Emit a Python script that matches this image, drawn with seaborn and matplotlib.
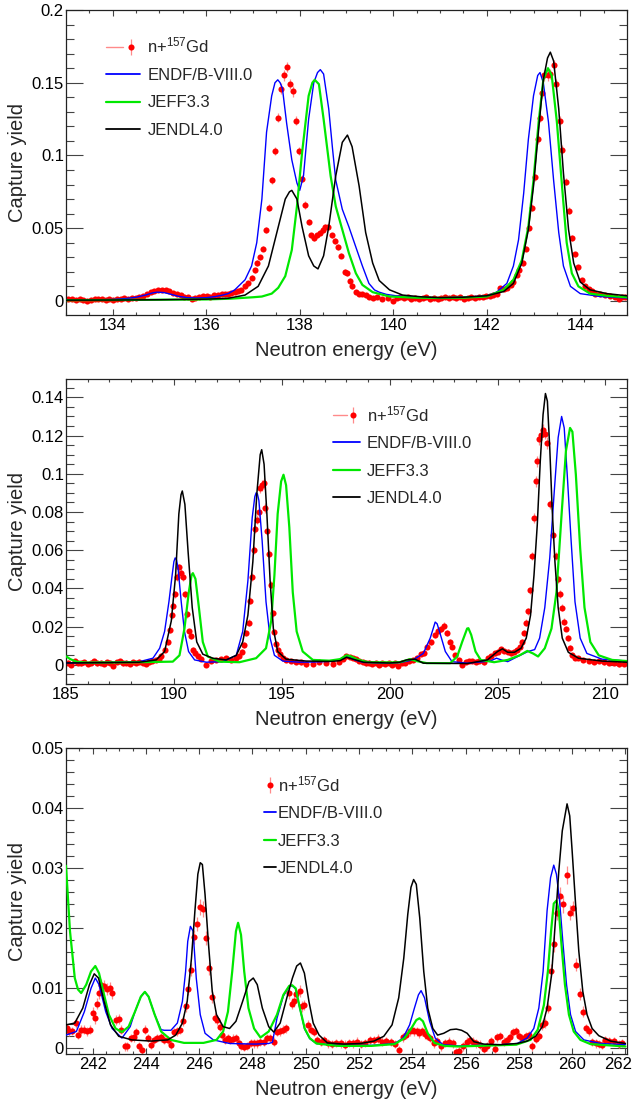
import matplotlib
matplotlib.use("Agg")
import matplotlib.pyplot as plt
import seaborn as sns
import pandas as pd
from matplotlib.ticker import MultipleLocator, FuncFormatter
from matplotlib.lines import Line2D
from matplotlib.legend_handler import HandlerTuple
from matplotlib.transforms import ScaledTranslation

# ---------------- data ----------------
labels = ["n+$^{\\mathregular{157}}$Gd", "ENDF/B-VIII.0", "JEFF3.3", "JENDL4.0"]
x_label = "Neutron energy (eV)"
y_label = "Capture yield"

# panel 1 : measured points (energy eV, yield, error)
p1_data = [
    (133.05,0.0010,0.0012),(133.13,0.0012,0.0012),(133.21,0.0008,0.0012),(133.29,0.0011,0.0012),(133.37,0.0006,0.0012),
    (133.45,0.0002,0.0012),(133.53,0.0009,0.0012),(133.61,0.0013,0.0012),(133.69,0.0010,0.0012),(133.77,0.0012,0.0012),
    (133.85,0.0007,0.0012),(133.93,0.0011,0.0012),(134.01,0.0009,0.0012),(134.09,0.0014,0.0012),(134.17,0.0012,0.0012),
    (134.25,0.0020,0.0012),(134.33,0.0016,0.0012),(134.41,0.0022,0.0012),(134.49,0.0018,0.0012),(134.57,0.0026,0.0012),
    (134.65,0.0035,0.0012),(134.73,0.0048,0.0012),(134.81,0.0060,0.0012),(134.89,0.0070,0.0012),(134.97,0.0078,0.0012),
    (135.05,0.0076,0.0012),(135.13,0.0077,0.0012),(135.21,0.0065,0.0012),(135.29,0.0055,0.0012),(135.37,0.0046,0.0012),
    (135.45,0.0040,0.0012),(135.53,0.0028,0.0012),(135.61,0.0024,0.0012),(135.69,0.0015,0.0012),(135.77,0.0022,0.0012),
    (135.85,0.0030,0.0012),(135.93,0.0032,0.0012),(136.01,0.0033,0.0012),(136.09,0.0030,0.0012),(136.17,0.0038,0.0012),
    (136.25,0.0040,0.0012),(136.33,0.0045,0.0012),(136.40,0.0048,0.0012),(136.47,0.0050,0.0012),(136.54,0.0052,0.0012),
    (136.61,0.0060,0.0012),(136.68,0.0068,0.0012),(136.75,0.0076,0.0012),(136.83,0.0100,0.0015),(136.90,0.0120,0.0015),
    (136.97,0.0160,0.0018),(137.04,0.0210,0.0018),(137.09,0.0260,0.0018),(137.15,0.0300,0.0018),(137.22,0.0360,0.0018),
    (137.27,0.0490,0.0020),(137.34,0.0640,0.0025),(137.41,0.0830,0.0025),(137.47,0.1030,0.0030),(137.54,0.1260,0.0030),
    (137.60,0.1460,0.0035),(137.66,0.1550,0.0035),(137.72,0.1610,0.0035),(137.80,0.1490,0.0035),(137.85,0.1440,0.0035),
    (137.92,0.1240,0.0030),(137.98,0.1030,0.0030),(138.05,0.0840,0.0025),(138.12,0.0660,0.0025),(138.19,0.0540,0.0020),
    (138.25,0.0450,0.0020),(138.31,0.0430,0.0020),(138.37,0.0450,0.0020),(138.43,0.0470,0.0020),(138.49,0.0490,0.0020),
    (138.55,0.0510,0.0020),(138.61,0.0510,0.0020),(138.68,0.0450,0.0020),(138.75,0.0410,0.0020),(138.82,0.0370,0.0018),
    (138.89,0.0310,0.0018),(138.96,0.0200,0.0018),(139.02,0.0190,0.0018),(139.07,0.0140,0.0015),(139.12,0.0100,0.0015),
    (139.20,0.0060,0.0012),(139.27,0.0050,0.0012),(139.34,0.0050,0.0012),(139.41,0.0040,0.0012),(139.48,0.0030,0.0012),
    (139.56,0.0020,0.0012),(139.66,0.0030,0.0012),(139.77,0.0010,0.0012),(139.88,0.0020,0.0012),(139.99,0.0000,0.0012),
    (140.07,0.0022,0.0012),(140.15,0.0030,0.0012),(140.23,0.0018,0.0012),(140.31,0.0025,0.0012),(140.39,0.0015,0.0012),
    (140.47,0.0021,0.0012),(140.55,0.0016,0.0012),(140.63,0.0020,0.0012),(140.71,0.0026,0.0012),(140.79,0.0014,0.0012),
    (140.87,0.0020,0.0012),(140.95,0.0011,0.0012),(141.03,0.0021,0.0012),(141.11,0.0024,0.0012),(141.19,0.0019,0.0012),
    (141.27,0.0025,0.0012),(141.35,0.0021,0.0012),(141.43,0.0026,0.0012),(141.51,0.0016,0.0012),(141.59,0.0023,0.0012),
    (141.67,0.0026,0.0012),(141.75,0.0022,0.0012),(141.83,0.0029,0.0012),(141.91,0.0025,0.0012),(141.99,0.0031,0.0012),
    (142.07,0.0033,0.0012),(142.14,0.0040,0.0012),(142.21,0.0050,0.0012),(142.29,0.0090,0.0015),(142.36,0.0080,0.0015),
    (142.44,0.0090,0.0015),(142.51,0.0110,0.0015),(142.57,0.0130,0.0015),(142.64,0.0180,0.0018),(142.70,0.0210,0.0018),
    (142.77,0.0260,0.0018),(142.84,0.0360,0.0018),(142.91,0.0500,0.0020),(142.97,0.0640,0.0025),(143.04,0.0850,0.0025),
    (143.09,0.1110,0.0030),(143.13,0.1260,0.0030),(143.18,0.1430,0.0035),(143.23,0.1550,0.0035),(143.30,0.1550,0.0035),
    (143.36,0.1560,0.0035),(143.43,0.1620,0.0035),(143.49,0.1490,0.0035),(143.56,0.1240,0.0030),(143.62,0.1040,0.0030),
    (143.69,0.0820,0.0025),(143.75,0.0620,0.0025),(143.82,0.0430,0.0020),(143.89,0.0320,0.0018),(143.96,0.0230,0.0018),
    (144.04,0.0145,0.0015),(144.11,0.0100,0.0015),(144.18,0.0080,0.0012),(144.25,0.0070,0.0012),(144.32,0.0050,0.0012),
    (144.43,0.0050,0.0012),(144.54,0.0040,0.0012),(144.64,0.0035,0.0012),(144.75,0.0030,0.0012),(144.82,0.0010,0.0012),
    (144.89,0.0030,0.0012),(144.96,0.0025,0.0012),
]

p1_endf = [
    (133.0,0.0005),(133.5,0.0006),(134.0,0.0010),(134.3,0.0017),(134.5,0.0025),(134.7,0.0040),(134.85,0.0055),
    (134.95,0.0060),(135.1,0.0057),(135.25,0.0045),(135.4,0.0032),(135.6,0.0022),(135.8,0.0020),(136.0,0.0022),
    (136.2,0.0030),(136.35,0.0040),(136.47,0.0050),(136.61,0.0076),(136.83,0.0145),(136.97,0.0240),(137.08,0.0400),
    (137.19,0.0700),(137.29,0.1160),(137.40,0.1410),(137.47,0.1500),(137.53,0.1520),(137.58,0.1500),(137.63,0.1460),
    (137.72,0.1220),(137.83,0.0970),(137.94,0.0810),(138.00,0.0760),(138.08,0.0860),(138.19,0.1250),(138.30,0.1500),
    (138.38,0.1570),(138.44,0.1590),(138.51,0.1560),(138.62,0.1320),(138.70,0.1050),(138.77,0.0830),(138.91,0.0630),
    (139.05,0.0510),(139.20,0.0370),(139.34,0.0240),(139.48,0.0120),(139.60,0.0075),(139.70,0.0060),(139.85,0.0045),
    (140.06,0.0035),(140.5,0.0025),(141.0,0.0022),(141.5,0.0025),(142.0,0.0035),(142.21,0.0060),(142.43,0.0120),
    (142.57,0.0240),(142.68,0.0420),(142.79,0.0740),(142.89,0.1110),(143.00,0.1410),(143.09,0.1550),(143.14,0.1570),
    (143.21,0.1500),(143.32,0.1230),(143.43,0.0830),(143.54,0.0470),(143.64,0.0240),(143.79,0.0100),(144.00,0.0050),
    (144.43,0.0030),(145.0,0.0020),
]
p1_jeff = [
    (133.0,0.0005),(134.0,0.0006),(135.0,0.0008),(136.0,0.0010),(136.5,0.0015),(137.0,0.0025),(137.19,0.0030),
    (137.40,0.0050),(137.54,0.0090),(137.69,0.0170),(137.83,0.0350),(137.94,0.0650),(138.05,0.1020),(138.19,0.1410),
    (138.27,0.1500),(138.32,0.1520),(138.41,0.1490),(138.51,0.1250),(138.66,0.0860),(138.77,0.0650),(138.91,0.0490),
    (139.05,0.0330),(139.20,0.0190),(139.34,0.0110),(139.56,0.0060),(139.92,0.0030),(140.5,0.0022),(141.0,0.0020),
    (141.5,0.0022),(142.0,0.0030),(142.36,0.0076),(142.57,0.0145),(142.75,0.0280),(142.89,0.0510),(143.00,0.0830),
    (143.11,0.1230),(143.21,0.1520),(143.31,0.1600),(143.39,0.1550),(143.50,0.1230),(143.61,0.0790),(143.71,0.0400),
    (143.82,0.0190),(143.96,0.0100),(144.21,0.0050),(144.57,0.0035),(145.0,0.0025),
]
p1_jendl = [
    (133.0,0.0005),(134.0,0.0006),(135.0,0.0008),(136.0,0.0012),(136.47,0.0018),(136.83,0.0040),(137.11,0.0100),
    (137.33,0.0240),(137.51,0.0470),(137.69,0.0700),(137.78,0.0750),(137.83,0.0760),(137.94,0.0700),(138.05,0.0510),
    (138.19,0.0310),(138.30,0.0240),(138.39,0.0220),(138.51,0.0310),(138.62,0.0510),(138.77,0.0860),(138.91,0.1090),
    (139.02,0.1140),(139.12,0.1060),(139.27,0.0790),(139.41,0.0470),(139.56,0.0260),(139.70,0.0140),(139.92,0.0076),
    (140.20,0.0040),(140.6,0.0028),(141.0,0.0022),(141.5,0.0025),(142.0,0.0035),(142.36,0.0064),(142.57,0.0120),
    (142.75,0.0260),(142.89,0.0490),(143.00,0.0790),(143.11,0.1180),(143.21,0.1520),(143.30,0.1670),(143.36,0.1710),
    (143.43,0.1650),(143.54,0.1320),(143.64,0.0880),(143.75,0.0490),(143.86,0.0260),(144.00,0.0130),(144.21,0.0076),
    (144.57,0.0050),(145.0,0.0035),
]

# panel 2
p2_data = [
    (185.10,0.0012,0.0012),(185.25,0.0002,0.0012),(185.40,0.0020,0.0012),(185.55,0.0010,0.0012),(185.70,0.0008,0.0012),
    (185.85,0.0015,0.0012),(186.00,0.0005,0.0012),(186.15,0.0012,0.0012),(186.30,0.0018,0.0012),(186.45,0.0008,0.0012),
    (186.60,0.0012,0.0012),(186.75,0.0005,0.0012),(186.90,0.0015,0.0012),(187.05,0.0012,0.0012),(187.20,-0.0005,0.0012),
    (187.35,0.0015,0.0012),(187.50,0.0018,0.0012),(187.65,0.0008,0.0012),(187.80,0.0012,0.0012),(187.95,0.0005,0.0012),
    (188.10,0.0015,0.0012),(188.25,0.0010,0.0012),(188.40,0.0017,0.0012),(188.55,0.0012,0.0012),(188.70,0.0005,0.0012),
    (188.85,0.0015,0.0012),(189.00,0.0020,0.0012),(189.15,0.0025,0.0012),(189.30,0.0030,0.0012),(189.41,0.0044,0.0012),
    (189.57,0.0080,0.0012),(189.75,0.0120,0.0015),(189.83,0.0180,0.0015),(189.91,0.0260,0.0018),(189.97,0.0310,0.0018),
    (190.05,0.0370,0.0018),(190.14,0.0460,0.0020),(190.23,0.0510,0.0020),(190.31,0.0480,0.0020),(190.42,0.0460,0.0020),
    (190.52,0.0370,0.0018),(190.62,0.0265,0.0018),(190.69,0.0175,0.0015),(190.80,0.0150,0.0015),(190.88,0.0080,0.0012),
    (190.97,0.0060,0.0012),(191.11,0.0044,0.0012),(191.27,0.0030,0.0012),(191.50,0.0000,0.0012),(191.73,0.0020,0.0012),
    (191.96,0.0026,0.0012),(192.19,0.0030,0.0012),(192.42,0.0035,0.0012),(192.65,0.0026,0.0012),(192.89,0.0035,0.0012),
    (193.04,0.0047,0.0012),(193.15,0.0070,0.0012),(193.27,0.0105,0.0015),(193.35,0.0166,0.0015),(193.47,0.0220,0.0018),
    (193.55,0.0335,0.0018),(193.63,0.0460,0.0020),(193.70,0.0600,0.0022),(193.78,0.0710,0.0022),(193.86,0.0760,0.0025),
    (193.94,0.0800,0.0025),(194.00,0.0925,0.0028),(194.09,0.0940,0.0028),(194.17,0.0950,0.0028),(194.23,0.0820,0.0025),
    (194.31,0.0700,0.0022),(194.40,0.0580,0.0022),(194.49,0.0420,0.0020),(194.58,0.0270,0.0018),(194.66,0.0170,0.0015),
    (194.74,0.0110,0.0015),(194.81,0.0080,0.0012),(194.92,0.0056,0.0012),(195.05,0.0035,0.0012),(195.20,0.0026,0.0012),
    (195.43,0.0020,0.0012),(195.66,0.0017,0.0012),(195.90,0.0014,0.0012),(196.13,0.0003,0.0012),(196.44,0.0007,0.0012),
    (196.74,0.0017,0.0012),(197.05,0.0009,0.0012),(197.36,0.0003,0.0012),(197.67,0.0017,0.0012),(197.85,0.0030,0.0012),
    (198.00,0.0045,0.0012),(198.15,0.0042,0.0012),(198.30,0.0035,0.0012),(198.45,0.0030,0.0012),(198.60,0.0020,0.0012),
    (198.75,0.0015,0.0012),(198.90,0.0008,0.0012),(199.05,0.0012,0.0012),(199.20,0.0005,0.0012),(199.35,0.0010,0.0012),
    (199.50,0.0002,0.0012),(199.65,0.0008,0.0012),(199.80,0.0005,0.0012),(199.95,0.0010,0.0012),(200.10,0.0000,0.0012),
    (200.25,0.0008,0.0012),(200.40,-0.0005,0.0012),(200.55,0.0009,0.0012),(200.70,0.0009,0.0012),(200.90,0.0020,0.0012),
    (201.09,0.0026,0.0012),(201.28,0.0038,0.0012),(201.44,0.0056,0.0012),(201.59,0.0060,0.0012),(201.75,0.0096,0.0012),
    (201.92,0.0120,0.0015),(202.08,0.0157,0.0015),(202.23,0.0175,0.0015),(202.38,0.0190,0.0015),(202.52,0.0206,0.0018),
    (202.66,0.0166,0.0015),(202.78,0.0120,0.0015),(202.89,0.0096,0.0012),(203.05,0.0050,0.0012),(203.20,0.0026,0.0012),
    (203.36,0.0000,0.0012),(203.52,0.0017,0.0012),(203.67,0.0020,0.0012),(203.83,0.0020,0.0012),(203.98,0.0017,0.0012),
    (204.14,0.0020,0.0012),(204.38,0.0014,0.0012),(204.56,0.0035,0.0012),(204.72,0.0044,0.0012),(204.88,0.0060,0.0012),
    (205.03,0.0070,0.0012),(205.16,0.0084,0.0012),(205.31,0.0073,0.0012),(205.47,0.0070,0.0012),(205.63,0.0060,0.0012),
    (205.78,0.0070,0.0012),(205.91,0.0080,0.0012),(206.03,0.0096,0.0012),(206.13,0.0120,0.0015),(206.22,0.0166,0.0015),
    (206.33,0.0220,0.0018),(206.41,0.0280,0.0018),(206.52,0.0390,0.0020),(206.59,0.0570,0.0022),(206.69,0.0770,0.0025),
    (206.77,0.0960,0.0028),(206.84,0.1065,0.0030),(206.92,0.1180,0.0030),(207.00,0.1205,0.0030),(207.09,0.1230,0.0030),
    (207.19,0.1210,0.0030),(207.27,0.1160,0.0030),(207.45,0.0840,0.0025),(207.58,0.0680,0.0025),(207.69,0.0570,0.0022),
    (207.81,0.0450,0.0020),(207.89,0.0370,0.0020),(207.97,0.0300,0.0018),(208.06,0.0227,0.0018),(208.16,0.0190,0.0015),
    (208.28,0.0140,0.0015),(208.36,0.0090,0.0012),(208.44,0.0050,0.0012),(208.59,0.0038,0.0012),(208.75,0.0035,0.0012),
    (208.98,0.0026,0.0012),(209.22,0.0020,0.0012),(209.45,0.0017,0.0012),(209.69,0.0020,0.0012),(209.92,0.0014,0.0012),
    (210.16,0.0010,0.0012),(210.39,0.0009,0.0012),(210.63,0.0003,0.0012),(210.86,0.0007,0.0012),
]
p2_endf = [
    (185.0,0.0010),(186.0,0.0012),(187.0,0.0013),(188.0,0.0015),(188.41,0.0017),(189.03,0.0035),(189.34,0.0087),
    (189.57,0.0175),(189.77,0.0330),(189.92,0.0470),(190.00,0.0540),(190.06,0.0560),(190.12,0.0550),(190.19,0.0510),
    (190.34,0.0330),(190.49,0.0175),(190.68,0.0070),(190.96,0.0026),(191.50,0.0014),(192.27,0.0017),(192.89,0.0050),
    (193.19,0.0175),(193.43,0.0440),(193.63,0.0770),(193.75,0.0880),(193.81,0.0900),(193.87,0.0895),(193.94,0.0860),
    (194.09,0.0650),(194.27,0.0330),(194.46,0.0140),(194.66,0.0050),(195.05,0.0020),(195.82,0.0014),(196.5,0.0015),
    (197.2,0.0018),(197.6,0.0025),(197.9,0.0040),(198.1,0.0042),(198.4,0.0025),(198.8,0.0013),(199.5,0.0010),
    (200.0,0.0010),(200.47,0.0012),(201.09,0.0026),(201.56,0.0060),(201.88,0.0140),(202.11,0.0224),(202.20,0.0215),
    (202.31,0.0175),(202.58,0.0070),(202.89,0.0017),(203.59,0.0009),(204.38,0.0017),(204.70,0.0022),(204.95,0.0035),
    (205.20,0.0025),(205.47,0.0017),(205.94,0.0044),(206.41,0.0070),(206.72,0.0080),(206.95,0.0140),(207.19,0.0300),
    (207.42,0.0560),(207.63,0.0910),(207.81,0.1190),(207.97,0.1300),(208.09,0.1240),(208.23,0.0995),(208.41,0.0650),
    (208.59,0.0330),(208.83,0.0140),(209.14,0.0060),(209.84,0.0030),(211.0,0.0020),
]
p2_jeff = [
    (185.0,0.0045),(185.2,0.0030),(185.5,0.0016),(186.0,0.0012),(188.4,0.0014),(189.95,0.0017),(190.26,0.0050),
    (190.49,0.0190),(190.69,0.0380),(190.82,0.0470),(190.88,0.0480),(191.00,0.0450),(191.16,0.0300),(191.34,0.0120),
    (191.57,0.0044),(192.11,0.0017),(193.04,0.0014),(193.81,0.0035),(194.27,0.0087),(194.51,0.0230),(194.66,0.0470),
    (194.81,0.0790),(194.97,0.0960),(195.08,0.0995),(195.20,0.0940),(195.35,0.0720),(195.51,0.0380),(195.69,0.0175),
    (195.97,0.0070),(196.44,0.0026),(197.2,0.0022),(197.7,0.0030),(198.0,0.0050),(198.2,0.0045),(198.5,0.0028),
    (199.0,0.0014),(200.0,0.0013),(200.47,0.0014),(200.94,0.0030),(201.25,0.0020),(201.72,0.0009),(202.81,0.0009),
    (203.13,0.0044),(203.36,0.0120),(203.59,0.0190),(203.65,0.0192),(203.78,0.0157),(203.98,0.0070),(204.22,0.0026),
    (204.84,0.0014),(205.47,0.0026),(206.02,0.0050),(206.38,0.0073),(206.64,0.0060),(206.88,0.0044),(207.19,0.0087),
    (207.50,0.0190),(207.73,0.0380),(207.97,0.0790),(208.17,0.1120),(208.36,0.1240),(208.47,0.1220),(208.63,0.0995),
    (208.83,0.0610),(209.03,0.0300),(209.30,0.0120),(209.69,0.0050),(210.31,0.0026),(211.0,0.0020),
]
p2_jendl = [
    (185.0,0.0010),(187.0,0.0012),(188.4,0.0014),(189.18,0.0026),(189.57,0.0070),(189.88,0.0230),(190.08,0.0470),
    (190.23,0.0790),(190.33,0.0890),(190.39,0.0910),(190.51,0.0840),(190.66,0.0590),(190.85,0.0300),(191.06,0.0120),
    (191.34,0.0056),(191.80,0.0035),(192.42,0.0026),(192.89,0.0050),(193.19,0.0120),(193.43,0.0260),(193.66,0.0540),
    (193.84,0.0890),(194.00,0.1100),(194.07,0.1126),(194.18,0.1050),(194.31,0.0790),(194.46,0.0440),(194.61,0.0190),
    (194.81,0.0070),(195.20,0.0030),(196.13,0.0020),(197.3,0.0018),(197.7,0.0022),(198.0,0.0040),(198.3,0.0030),
    (198.8,0.0014),(200.0,0.0010),(200.47,0.0014),(200.78,0.0026),(201.17,0.0030),(201.56,0.0009),(203.59,0.0007),
    (204.53,0.0026),(205.00,0.0070),(205.23,0.0084),(205.47,0.0066),(205.78,0.0066),(206.09,0.0087),(206.33,0.0140),
    (206.53,0.0260),(206.69,0.0470),(206.84,0.0730),(206.98,0.1065),(207.11,0.1310),(207.22,0.1420),(207.31,0.1380),
    (207.42,0.1135),(207.53,0.0820),(207.66,0.0540),(207.81,0.0300),(208.00,0.0140),(208.28,0.0066),(208.75,0.0035),
    (209.84,0.0020),(211.0,0.0014),
]

# panel 3
p3_data = [
    (241.02,0.0033,0.0007),(241.12,0.0028,0.0007),(241.24,0.0029,0.0007),(241.36,0.0042,0.0008),(241.46,0.0022,0.0007),
    (241.58,0.0031,0.0007),(241.69,0.0031,0.0007),(241.79,0.0028,0.0007),(241.90,0.0031,0.0007),(242.00,0.0059,0.0009),
    (242.09,0.0050,0.0009),(242.16,0.0074,0.0009),(242.24,0.0092,0.0010),(242.33,0.0106,0.0010),(242.43,0.0103,0.0010),
    (242.53,0.0098,0.0010),(242.64,0.0101,0.0010),(242.73,0.0092,0.0010),(242.86,0.0047,0.0008),(242.98,0.0049,0.0008),
    (243.08,0.0031,0.0007),(243.20,0.0003,0.0007),(243.30,0.0003,0.0007),(243.44,0.0017,0.0007),(243.54,0.0018,0.0007),
    (243.63,0.0027,0.0007),(243.75,0.0003,0.0007),(243.84,-0.0003,0.0007),(243.96,0.0031,0.0007),(244.06,0.0017,0.0007),
    (244.18,0.0006,0.0007),(244.30,0.0014,0.0007),(244.42,0.0017,0.0007),(244.55,0.0018,0.0007),(244.67,0.0014,0.0007),
    (244.82,0.0014,0.0007),(244.94,0.0006,0.0007),(245.06,0.0027,0.0007),(245.16,0.0028,0.0007),(245.28,0.0031,0.0007),
    (245.38,0.0045,0.0008),(245.49,0.0070,0.0009),(245.59,0.0098,0.0010),(245.71,0.0131,0.0011),(245.79,0.0185,0.0012),
    (245.92,0.0207,0.0012),(246.04,0.0235,0.0013),(246.14,0.0232,0.0013),(246.25,0.0184,0.0012),(246.37,0.0133,0.0011),
    (246.47,0.0085,0.0010),(246.59,0.0050,0.0008),(246.68,0.0047,0.0008),(246.77,0.0036,0.0008),(246.87,0.0022,0.0007),
    (246.98,0.0014,0.0007),(247.08,0.0017,0.0007),(247.17,0.0014,0.0007),(247.26,0.0016,0.0007),(247.39,0.0017,0.0007),
    (247.48,0.0009,0.0007),(247.58,0.0004,0.0007),(247.69,0.0002,0.0007),(247.81,0.0004,0.0007),(247.94,0.0009,0.0007),
    (248.06,0.0008,0.0007),(248.18,0.0008,0.0007),(248.30,0.0010,0.0007),(248.43,0.0011,0.0007),(248.55,0.0017,0.0007),
    (248.67,0.0017,0.0007),(248.79,0.0011,0.0007),(248.92,0.0027,0.0007),(249.04,0.0028,0.0007),(249.16,0.0031,0.0007),
    (249.26,0.0033,0.0008),(249.37,0.0092,0.0010),(249.47,0.0074,0.0009),(249.56,0.0078,0.0009),(249.65,0.0090,0.0010),
    (249.78,0.0095,0.0010),(249.86,0.0070,0.0009),(249.94,0.0072,0.0009),(250.09,0.0039,0.0008),(250.21,0.0031,0.0007),
    (250.31,0.0027,0.0007),(250.44,0.0014,0.0007),(250.56,0.0011,0.0007),(250.69,0.0014,0.0007),(250.84,0.0008,0.0007),
    (251.00,0.0007,0.0007),(251.15,0.0009,0.0007),(251.31,0.0008,0.0007),(251.46,0.0006,0.0007),(251.62,0.0009,0.0007),
    (251.77,0.0008,0.0007),(251.94,0.0011,0.0007),(252.09,0.0007,0.0007),(252.24,0.0009,0.0007),(252.40,0.0014,0.0007),
    (252.56,0.0014,0.0007),(252.71,0.0016,0.0007),(252.87,0.0011,0.0007),(253.02,0.0012,0.0007),(253.19,0.0010,0.0007),
    (253.34,0.0007,0.0007),(253.50,-0.0003,0.0007),(253.65,0.0018,0.0007),(253.77,0.0022,0.0007),(253.90,0.0028,0.0008),
    (254.00,0.0031,0.0008),(254.08,0.0028,0.0008),(254.18,0.0028,0.0008),(254.27,0.0025,0.0008),(254.36,0.0028,0.0008),
    (254.46,0.0023,0.0008),(254.56,0.0020,0.0007),(254.68,0.0017,0.0007),(254.81,0.0008,0.0007),(254.93,0.0012,0.0007),
    (255.08,0.0003,0.0007),(255.23,0.0009,0.0007),(255.39,0.0011,0.0007),(255.52,0.0008,0.0007),(255.64,-0.0006,0.0007),
    (255.77,-0.0004,0.0007),(255.91,0.0003,0.0007),(256.04,0.0011,0.0007),(256.16,0.0014,0.0007),(256.29,0.0011,0.0007),
    (256.41,0.0008,0.0007),(256.54,0.0006,0.0007),(256.69,-0.0001,0.0007),(256.81,0.0003,0.0007),(256.96,0.0012,0.0007),
    (257.09,-0.0001,0.0007),(257.19,0.0018,0.0007),(257.31,0.0020,0.0007),(257.44,0.0011,0.0007),(257.54,0.0014,0.0007),
    (257.66,0.0018,0.0007),(257.79,0.0027,0.0007),(257.89,0.0029,0.0007),(258.01,0.0020,0.0007),(258.13,0.0017,0.0007),
    (258.25,0.0020,0.0007),(258.38,0.0022,0.0007),(258.50,0.0003,0.0007),(258.63,0.0016,0.0007),(258.75,0.0020,0.0007),
    (258.88,0.0039,0.0008),(258.98,0.0042,0.0008),(259.10,0.0067,0.0009),(259.21,0.0129,0.0011),(259.31,0.0173,0.0012),
    (259.44,0.0226,0.0013),(259.54,0.0254,0.0014),(259.66,0.0240,0.0014),(259.81,0.0289,0.0015),(259.91,0.0226,0.0013),
    (260.04,0.0233,0.0013),(260.15,0.0139,0.0011),(260.28,0.0090,0.0010),(260.40,0.0061,0.0009),(260.53,0.0033,0.0008),
    (260.63,0.0028,0.0007),(260.75,0.0010,0.0007),(260.88,0.0008,0.0007),(261.00,0.0007,0.0007),(261.13,0.0006,0.0007),
    (261.25,0.0014,0.0007),(261.38,0.0012,0.0007),(261.56,0.0012,0.0007),(261.75,0.0007,0.0007),(261.88,0.0009,0.0007),
]
p3_endf = [
    (241.0,0.0022),(241.39,0.0028),(241.69,0.0061),(241.94,0.0100),(242.10,0.0117),(242.24,0.0106),(242.49,0.0061),
    (242.73,0.0033),(243.10,0.0017),(243.41,0.0036),(243.59,0.0061),(243.81,0.0086),(243.96,0.0094),(244.10,0.0086),
    (244.33,0.0056),(244.57,0.0031),(244.69,0.0030),(244.94,0.0030),(245.18,0.0042),(245.37,0.0078),(245.49,0.0128),
    (245.57,0.0178),(245.67,0.0203),(245.77,0.0195),(245.89,0.0117),(246.04,0.0056),(246.22,0.0025),(246.53,0.0014),
    (247.14,0.0008),(248.12,0.0007),(248.61,0.0008),(248.75,0.0010),(248.92,0.0050),(249.16,0.0087),(249.38,0.0103),
    (249.49,0.0104),(249.62,0.0099),(249.78,0.0066),(249.96,0.0032),(250.15,0.0016),(250.40,0.0008),(251.2,0.0005),
    (252.5,0.0005),(253.34,0.0008),(253.65,0.0017),(253.90,0.0039),(254.08,0.0067),(254.23,0.0089),(254.33,0.0096),
    (254.46,0.0084),(254.65,0.0045),(254.86,0.0017),(255.15,0.0006),(255.7,0.0004),(257.31,0.0006),(257.94,0.0008),
    (258.31,0.0017),(258.56,0.0033),(258.75,0.0067),(258.91,0.0128),(259.06,0.0229),(259.19,0.0284),(259.31,0.0305),
    (259.41,0.0290),(259.53,0.0245),(259.65,0.0178),(259.79,0.0106),(259.94,0.0056),(260.13,0.0028),(260.44,0.0014),
    (261.06,0.0008),(262.0,0.0006),
]
p3_jeff = [
    (241.00,0.0304),(241.15,0.0195),(241.33,0.0117),(241.45,0.0098),(241.57,0.0092),(241.76,0.0106),(241.94,0.0128),
    (242.10,0.0137),(242.24,0.0125),(242.43,0.0089),(242.61,0.0056),(242.86,0.0033),(243.10,0.0027),(243.35,0.0036),
    (243.59,0.0061),(243.81,0.0086),(243.96,0.0094),(244.10,0.0086),(244.33,0.0056),(244.57,0.0028),(244.94,0.0014),
    (245.43,0.0009),(246.16,0.0009),(246.65,0.0014),(246.90,0.0028),(247.08,0.0061),(247.24,0.0128),(247.38,0.0195),
    (247.46,0.0209),(247.57,0.0189),(247.69,0.0128),(247.85,0.0067),(248.06,0.0033),(248.30,0.0018),(248.61,0.0028),
    (248.92,0.0056),(249.16,0.0089),(249.38,0.0104),(249.49,0.0105),(249.62,0.0100),(249.78,0.0067),(249.96,0.0033),
    (250.15,0.0017),(250.40,0.0008),(251.21,0.0004),(252.46,0.0004),(253.34,0.0007),(253.71,0.0017),(253.96,0.0033),
    (254.15,0.0047),(254.27,0.0050),(254.40,0.0045),(254.58,0.0025),(254.83,0.0009),(255.21,0.0004),(255.71,0.0003),
    (257.9,0.0006),(258.44,0.0014),(258.71,0.0031),(258.94,0.0072),(259.09,0.0128),(259.21,0.0195),(259.31,0.0241),
    (259.41,0.0246),(259.50,0.0229),(259.60,0.0173),(259.73,0.0106),(259.88,0.0056),(260.06,0.0028),(260.31,0.0014),
    (260.69,0.0007),(262.0,0.0003),
]
p3_jendl = [
    (241.00,0.0039),(241.33,0.0042),(241.63,0.0067),(241.88,0.0106),(242.06,0.0124),(242.22,0.0117),(242.43,0.0078),
    (242.67,0.0039),(242.98,0.0020),(243.47,0.0014),(244.20,0.0012),(244.82,0.0014),(245.12,0.0022),(245.37,0.0042),
    (245.55,0.0078),(245.71,0.0150),(245.84,0.0229),(245.95,0.0290),(246.04,0.0309),(246.12,0.0306),(246.22,0.0256),
    (246.35,0.0173),(246.49,0.0095),(246.65,0.0056),(246.90,0.0036),(247.14,0.0033),(247.38,0.0045),(247.63,0.0078),
    (247.87,0.0111),(248.03,0.0117),(248.18,0.0106),(248.37,0.0067),(248.61,0.0036),(248.80,0.0027),(249.04,0.0042),
    (249.29,0.0084),(249.50,0.0117),(249.66,0.0137),(249.80,0.0142),(249.95,0.0125),(250.12,0.0078),(250.28,0.0042),
    (250.50,0.0022),(250.81,0.0009),(251.43,0.0007),(252.06,0.0008),(252.56,0.0012),(252.93,0.0020),(253.24,0.0039),
    (253.49,0.0084),(253.68,0.0150),(253.83,0.0223),(253.95,0.0268),(254.05,0.0281),(254.15,0.0273),(254.28,0.0217),
    (254.43,0.0128),(254.58,0.0067),(254.77,0.0033),(254.95,0.0022),(255.18,0.0025),(255.43,0.0031),(255.65,0.0032),
    (255.85,0.0030),(256.06,0.0025),(256.31,0.0011),(256.69,0.0007),(257.31,0.0006),(257.94,0.0008),(258.31,0.0012),
    (258.63,0.0020),(258.88,0.0036),(259.06,0.0067),(259.23,0.0123),(259.38,0.0217),(259.50,0.0295),(259.63,0.0362),
    (259.73,0.0387),(259.81,0.0407),(259.91,0.0387),(260.00,0.0329),(260.13,0.0240),(260.25,0.0162),(260.40,0.0095),
    (260.56,0.0056),(260.75,0.0033),(261.00,0.0021),(261.44,0.0012),(262.0,0.0008),
]

# ---------------- style ----------------
sns.set_theme(style="ticks")
plt.rcParams["font.family"] = ["Liberation Sans", "DejaVu Sans"]
plt.rcParams["mathtext.fontset"] = "custom"
plt.rcParams["mathtext.rm"] = "Liberation Sans"
plt.rcParams["mathtext.it"] = "Liberation Sans:italic"
plt.rcParams["mathtext.bf"] = "Liberation Sans:bold"

RED = "#ff0000"
PINK = "#ff8a8a"
BLUE = "#0000ff"
GREEN = "#00e800"
BLACK = "#000000"
line_styles = [(BLUE, 1.0), (GREEN, 1.6), (BLACK, 1.1)]

fig = plt.figure(figsize=(6.36, 11.05), dpi=100)
fig.patch.set_facecolor("white")

L, W = 0.10377, 0.88208
panels = [
    dict(rect=[L, 0.71493, W, 0.27602], data=p1_data, curves=[p1_endf, p1_jeff, p1_jendl],
         xlim=(133, 145), ylim=(-0.0097, 0.2), xmaj=2, xmin=0.5, ymaj=0.05, ymin=0.01,
         leg_xy=(0.071, 0.915), hl=2.05, htp=0.45, hline=True),
    dict(rect=[L, 0.38100, W, 0.27602], data=p2_data, curves=[p2_endf, p2_jeff, p2_jendl],
         xlim=(185, 211), ylim=(-0.01, 0.1496), xmaj=5, xmin=1, ymaj=0.02, ymin=0.005,
         leg_xy=(0.476, 0.918), hl=1.62, htp=0.40, hline=True),
    dict(rect=[L, 0.04615, W, 0.27692], data=p3_data, curves=[p3_endf, p3_jeff, p3_jendl],
         xlim=(241, 262.06), ylim=(-0.00095, 0.05), xmaj=2, xmin=0.5, ymaj=0.01, ymin=0.002,
         leg_xy=(0.353, 0.915), hl=0.72, htp=0.12, hline=False),
]


def tick_fmt(v, pos):
    if abs(v) < 1e-9:
        return "0"
    return f"{round(v, 6):g}"


axes_list = []
for p in panels:
    ax = fig.add_axes(p["rect"])
    axes_list.append(ax)
    ax.set_facecolor("white")
    dx, dy, de = zip(*p["data"])
    eb = ax.errorbar(dx, dy, yerr=de, fmt="o", ms=4.4, color=RED, mec=RED, mew=0,
                     ecolor=PINK, elinewidth=0.9, capsize=1.3, capthick=0.9, zorder=2)
    proxies = []
    for curve, (col, lw), name in zip(p["curves"], line_styles, labels[1:]):
        cx, cy = zip(*curve)
        df = pd.DataFrame({"energy": cx, "yield": cy})
        sns.lineplot(data=df, x="energy", y="yield", ax=ax, color=col, linewidth=lw,
                     sort=False, estimator=None, legend=False, zorder=3)
        proxies.append(Line2D([0], [0], color=col, lw=max(lw, 1.3)))

    ax.set_xlim(*p["xlim"])
    ax.set_ylim(*p["ylim"])
    ax.xaxis.set_major_locator(MultipleLocator(p["xmaj"]))
    ax.xaxis.set_minor_locator(MultipleLocator(p["xmin"]))
    ax.yaxis.set_major_locator(MultipleLocator(p["ymaj"]))
    ax.yaxis.set_minor_locator(MultipleLocator(p["ymin"]))
    ax.xaxis.set_major_formatter(FuncFormatter(tick_fmt))
    ax.yaxis.set_major_formatter(FuncFormatter(tick_fmt))

    ax.tick_params(which="both", direction="in", top=True, right=True, color="#444444",
                   labelsize=12, labelcolor="black")
    ax.tick_params(axis="x", which="major", length=4.5, width=0.8, pad=2.5)
    ax.tick_params(axis="x", which="minor", length=2.4, width=0.8)
    ax.tick_params(axis="y", which="major", length=12, width=0.8, pad=1.5)
    ax.tick_params(axis="y", which="minor", length=5.5, width=0.8)
    for s in ax.spines.values():
        s.set_color("#222222")
        s.set_linewidth(0.9)
        s.set_visible(True)

    ax.set_xlabel(x_label, fontsize=14.5, va="center")
    ax.set_ylabel(y_label, fontsize=14.5, va="center")
    ax.xaxis.set_label_coords(0.5, -0.115)
    ax.yaxis.set_label_coords(-0.0856, 0.5)

    data_handle = (Line2D([0], [0], color=PINK, lw=1.0), eb) if p["hline"] else eb
    ax.legend([data_handle] + proxies, labels, loc="upper left", bbox_to_anchor=p["leg_xy"],
              frameon=False, fontsize=12, handlelength=p["hl"], handletextpad=p["htp"],
              labelspacing=0.74, borderpad=0, borderaxespad=0,
              handler_map={tuple: HandlerTuple(ndivide=None)})

# keep the last x tick label of the bottom panel inside the figure
fig.canvas.draw()
for lbl in axes_list[-1].get_xticklabels():
    if lbl.get_text() == "262":
        lbl.set_transform(lbl.get_transform() + ScaledTranslation(-5 / 72, 0, fig.dpi_scale_trans))

fig.savefig("out.png", dpi=100, facecolor="white")
